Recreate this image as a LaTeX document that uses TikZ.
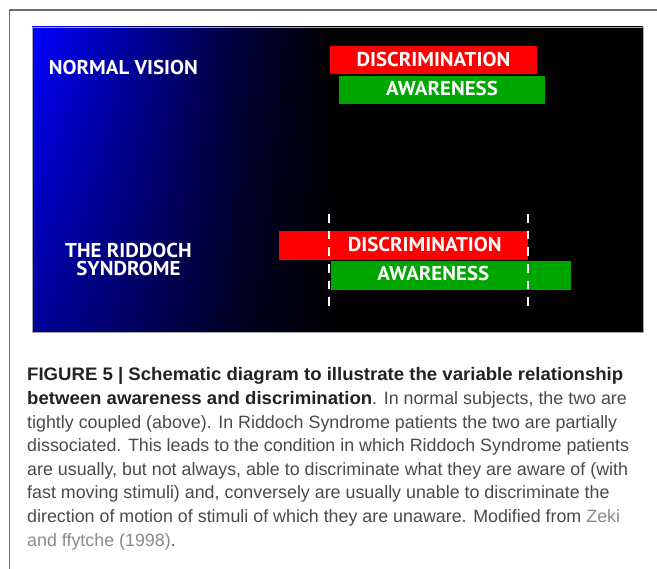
\documentclass[tikz,border=0pt]{standalone}
\usepackage{fontspec}
\setmainfont{Liberation Sans}
\newfontfamily\panelfont{PT Sans}
\usetikzlibrary{fadings}
\definecolor{capblack}{HTML}{222222}
\definecolor{capgray}{HTML}{4A4A4A}
\definecolor{linkgray}{HTML}{8A8A8A}
\definecolor{barred}{HTML}{FF0000}
\definecolor{bargreen}{HTML}{00A600}
\definecolor{framegray}{HTML}{6E6E6E}
\definecolor{panelblue}{rgb}{0,0,1}
\pgfdeclarehorizontalshading{panelshade}{100bp}{color(0bp)=(panelblue); color(25bp)=(panelblue); color(34bp)=(panelblue!58!black); color(42bp)=(panelblue!22!black); color(50bp)=(black); color(100bp)=(black)}
\tikzfading[name=darkbottom, top color=transparent!100, bottom color=transparent!60]
\newcommand{\pw}[1]{\scalebox{1.045}[1]{#1}}
\newcommand{\bw}[1]{{\fontsize{18.1}{21}\selectfont\scalebox{1.027}[1]{\textcolor{capblack}{\bfseries #1}}}}
\tikzset{
  bar/.style={draw=none, inner sep=0pt, outer sep=0pt},
  paneltext/.style={text=white, inner sep=0pt, font=\panelfont\bfseries\fontsize{20}{24}\selectfont},
  sidetext/.style={text=white, inner sep=0pt, align=center, font=\panelfont\bfseries\fontsize{20}{18.7}\selectfont},
  capline/.style={anchor=base west, inner sep=0pt, text=capgray, font=\fontsize{17.85}{21}\selectfont},
  dashline/.style={white, line width=2pt, dash pattern=on 8.7pt off 8pt}
}
\begin{document}
\begin{tikzpicture}[x=1pt,y=-1pt]
\useasboundingbox (0,0) rectangle (657,569);
\fill[white] (0,0) rectangle (657,569);
% outer frame
\draw[framegray, line width=1.5pt] (9.3,569) -- (9.3,10) -- (657,10);
% panel
\shade[shading=panelshade] (32,27) rectangle (643,332);
\fill[black, path fading=darkbottom] (32,27) rectangle (643,332);
\draw[gray!70, line width=0.8pt] (32,27) rectangle (643,332);
% side labels
\node[paneltext, anchor=base] (nv) at (123.4,75) {\pw{NORMAL VISION}};
\node[sidetext, anchor=base] (rs) at (128.5,276) {\pw{THE RIDDOCH}\\\pw{SYNDROME}};
% normal vision bars
\node[bar, fill=barred, minimum width=206.7pt, minimum height=28.3pt] (d1) at (433.4,60.2) {};
\node[bar, fill=bargreen, minimum width=206.6pt, minimum height=28.3pt] (a1) at (442,89.9) {};
\node[paneltext, anchor=base] (d1t) at (433.4,66.7) {\pw{DISCRIMINATION}};
\node[paneltext, anchor=base] (a1t) at (442,96) {\pw{AWARENESS}};
% riddoch bars
\node[bar, fill=barred, minimum width=248.6pt, minimum height=29pt] (d2) at (403.7,245.5) {};
\node[bar, fill=bargreen, minimum width=240.5pt, minimum height=29pt] (a2) at (450.75,275.5) {};
\node[paneltext, anchor=base] (d2t) at (424.7,251.7) {\pw{DISCRIMINATION}};
\node[paneltext, anchor=base] (a2t) at (433.3,281) {\pw{AWARENESS}};
% dashed markers
\coordinate (l1t) at (329.3,214);
\coordinate (l1b) at (329.3,309);
\coordinate (l2t) at (528.3,214);
\coordinate (l2b) at (528.3,309);
\draw[dashline] (l1t) -- (l1b);
\draw[dashline] (l2t) -- (l2b);
% caption
\node[capline] (c1) at (27,381) {\bw{FIGURE 5 | Schematic diagram to illustrate the variable relationship}};
\node[capline] (c2) at (27,404.6) {\bw{between awareness and discrimination}. In normal subjects, the two are};
\node[capline] (c3) at (27,428.2) {tightly coupled (above). In Riddoch Syndrome patients the two are partially};
\node[capline] (c4) at (27,451.8) {dissociated. This leads to the condition in which Riddoch Syndrome patients};
\node[capline] (c5) at (27,475.4) {are usually, but not always, able to discriminate what they are aware of (with};
\node[capline] (c6) at (27,499) {fast moving stimuli) and, conversely are usually unable to discriminate the};
\node[capline] (c7) at (27,522.6) {direction of motion of stimuli of which they are unaware. Modified from \textcolor{linkgray}{Zeki}};
\node[capline] (c8) at (27,546.2) {\textcolor{linkgray}{and ffytche (1998)}.};
\end{tikzpicture}
\end{document}
